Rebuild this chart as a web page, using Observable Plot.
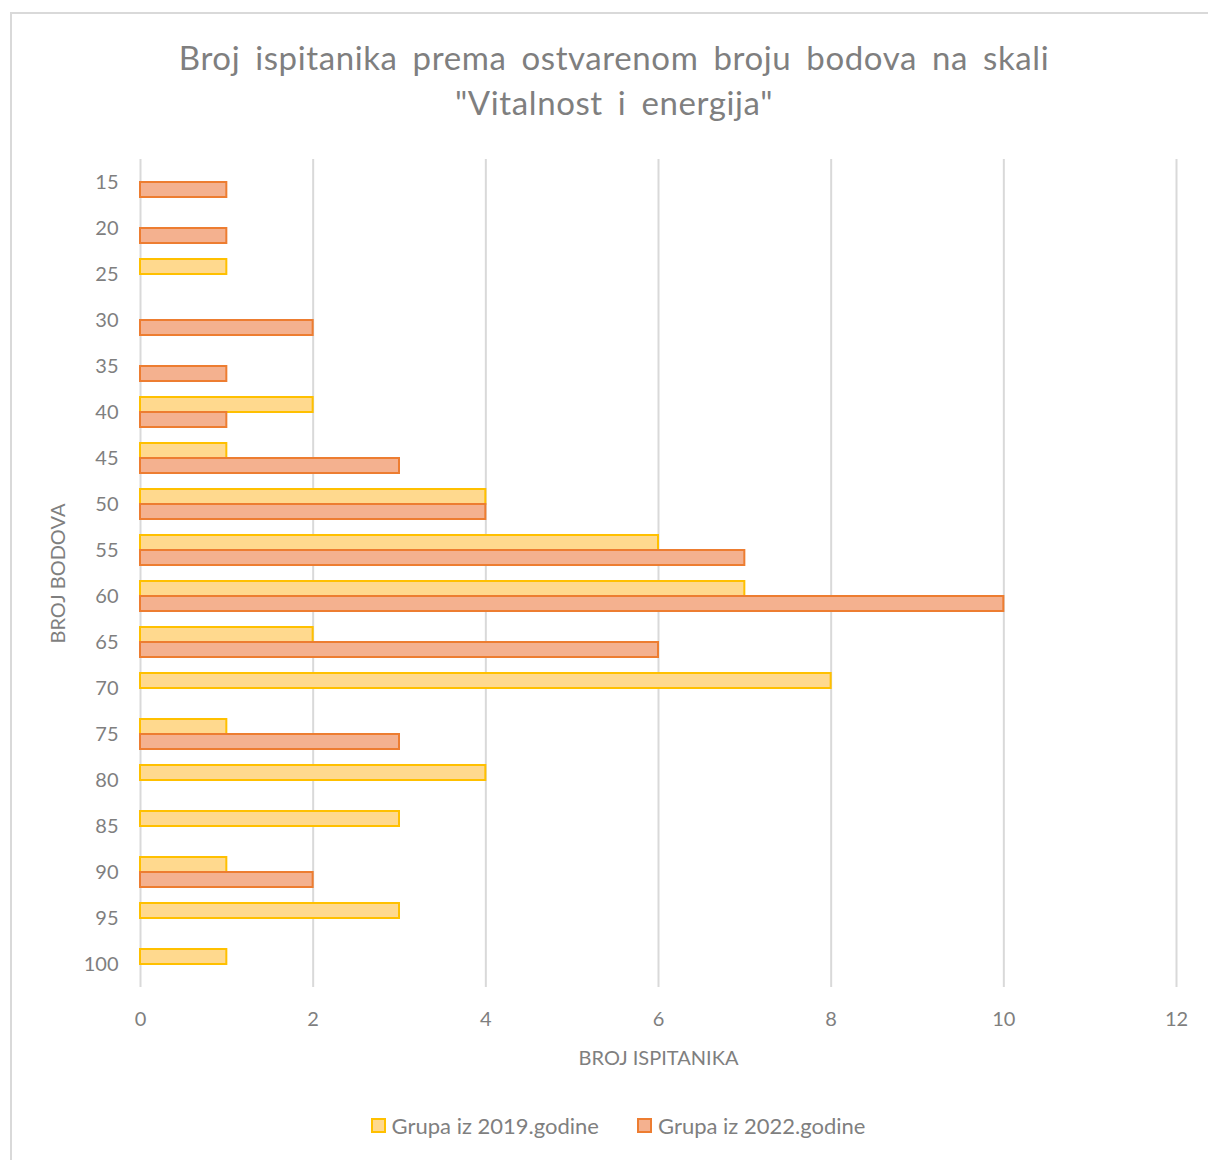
<!DOCTYPE html>
<html><head><meta charset="utf-8">
<script src="https://cdn.jsdelivr.net/npm/d3@7"></script>
<script src="https://cdn.jsdelivr.net/npm/@observablehq/plot@0.6"></script>
<style>
body{margin:0;background:#fff;overflow:hidden;font-family:Lato,"Open Sans",sans-serif;}
#wrap{position:relative;width:1208px;height:1160px;overflow:hidden;}
#frame{position:absolute;left:10px;top:12px;width:1240px;height:1200px;border:2px solid #d9d9d9;box-sizing:border-box;}
#title{position:absolute;left:10px;width:1208px;top:35px;text-align:center;font-size:33px;color:#7f7f7f;line-height:45px;word-spacing:6px;letter-spacing:0.6px;}
#chart{position:absolute;left:0;top:128px;}
#legend{position:absolute;left:0;top:1112px;width:1208px;display:flex;justify-content:center;padding-left:28px;box-sizing:border-box;font-size:22px;color:#7f7f7f;}
.item{display:flex;align-items:center;margin:0 19px;}
.sw{width:11px;height:11px;border:2px solid;margin-right:6px;}
</style></head>
<body><div id="wrap"><div id="frame"></div>
<div id="title">Broj ispitanika prema ostvarenom broju bodova na skali<br>"Vitalnost i energija"</div>
<div id="chart"></div>
<div id="legend"></div>
</div>
<script>
const scores = [15,20,25,30,35,40,45,50,55,60,65,70,75,80,85,90,95,100];
const series = ["Grupa iz 2019.godine","Grupa iz 2022.godine"];
const g2019 = [0,0,1,0,0,2,1,4,6,7,2,8,1,4,3,1,3,1];
const g2022 = [1,1,0,2,1,1,3,4,7,10,6,0,3,0,0,2,0,0];
const xTicks = [0,2,4,6,8,10,12];
const fills = ["#FFD98E","#F4B18F"];
const strokes = ["#FFC000","#ED7D31"];

const rows = [];
scores.forEach((s,i)=>{
  rows.push({score:s, series:series[0], value:g2019[i]});
  rows.push({score:s, series:series[1], value:g2022[i]});
});
const bars = rows.filter(d=>d.value>0);

const chart = Plot.plot({
  width:1208, height:952,
  marginLeft:140, marginRight:32, marginTop:28, marginBottom:90,
  style:{fontFamily:"Lato, 'Open Sans', sans-serif", fontSize:"20px", color:"#7f7f7f", background:"transparent"},
  x:{domain:[0,12]},
  y:{domain:series, axis:null, paddingInner:0, paddingOuter:0.5},
  fy:{domain:scores, padding:0},
  color:{domain:series, range:fills},
  marks:[
    Plot.gridX(xTicks, {stroke:"#d9d9d9", strokeWidth:2, strokeOpacity:1}),
    Plot.barX(bars, {x:"value", y:"series", fy:"score", fill:"series",
      stroke:d=>strokes[series.indexOf(d.series)], strokeWidth:2}),
    Plot.axisX({ticks:xTicks, tickSize:0, tickPadding:24, fontSize:20,
      label:"BROJ ISPITANIKA", labelAnchor:"center", labelArrow:"none", labelOffset:77}),
    Plot.axisFy({anchor:"left", tickSize:0, tickPadding:22, fontSize:20,
      label:"BROJ BODOVA", labelAnchor:"center", labelArrow:"none", labelOffset:90})
  ]
});
document.getElementById("chart").appendChild(chart);

const leg = document.getElementById("legend");
series.forEach((s,i)=>{
  const it = document.createElement("div"); it.className="item";
  const sw = document.createElement("div"); sw.className="sw";
  sw.style.background=fills[i]; sw.style.borderColor=strokes[i];
  const t = document.createElement("span"); t.textContent=s;
  it.appendChild(sw); it.appendChild(t); leg.appendChild(it);
});
</script></body></html>
